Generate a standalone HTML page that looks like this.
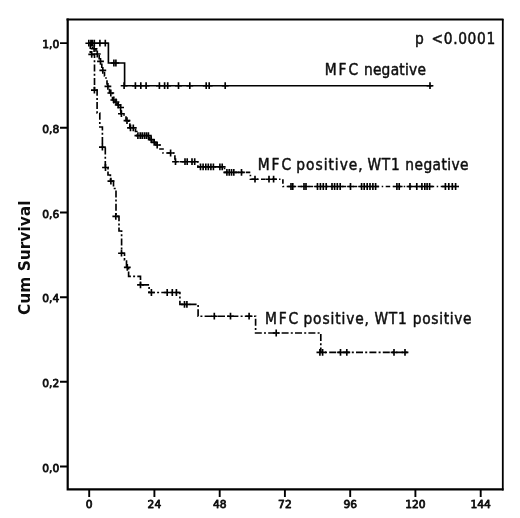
<!DOCTYPE html>
<html lang="en"><head><meta charset="utf-8"><title>Cum Survival</title>
<style>
html,body{margin:0;padding:0;background:#fff;}
body{width:520px;height:518px;overflow:hidden;}
svg{display:block;}
text{font-family:"DejaVu Sans","Liberation Sans",sans-serif;fill:#111;stroke:#111;stroke-width:0.5px;stroke-linejoin:round;}
.b{stroke-width:0;}
.t{stroke-width:0.75px;}
.b{font-weight:bold;}
</style></head><body>
<svg width="520" height="518" viewBox="0 0 520 518">
<defs><filter id="s" x="-2%" y="-2%" width="104%" height="104%"><feGaussianBlur stdDeviation="0.4"/></filter></defs>
<rect width="520" height="518" fill="#fff"/>
<g filter="url(#s)">
<path d="M66.5,19.6 H503.5" fill="none" stroke="#000" stroke-width="2"/>
<path d="M502.8,19 V490.4" fill="none" stroke="#000" stroke-width="1.8"/>
<path d="M67.7,18.6 V489.45 H503.5" fill="none" stroke="#000" stroke-width="2.2"/>
<path d="M60,43.1H67M60,127.8H67M60,212.5H67M60,297.2H67M60,381.8H67M60,466.5H67M89.2,489V497M154.4,489V497M219.7,489V497M284.9,489V497M350.2,489V497M415.4,489V497M480.7,489V497" fill="none" stroke="#000" stroke-width="1.9"/>
<text class="t" transform="translate(59.2,48.4) scale(1.04,1)" font-size="10.3" text-anchor="end">1,0</text>
<text class="t" transform="translate(59.2,133.0) scale(1.04,1)" font-size="10.3" text-anchor="end">0,8</text>
<text class="t" transform="translate(59.2,217.7) scale(1.04,1)" font-size="10.3" text-anchor="end">0,6</text>
<text class="t" transform="translate(59.2,302.4) scale(1.04,1)" font-size="10.3" text-anchor="end">0,4</text>
<text class="t" transform="translate(59.2,387.0) scale(1.04,1)" font-size="10.3" text-anchor="end">0,2</text>
<text class="t" transform="translate(59.2,471.7) scale(1.04,1)" font-size="10.3" text-anchor="end">0,0</text>
<text class="t" transform="translate(89.2,508.2) scale(1.04,1)" font-size="10.3" text-anchor="middle">0</text>
<text class="t" transform="translate(154.4,508.2) scale(1.04,1)" font-size="10.3" text-anchor="middle">24</text>
<text class="t" transform="translate(219.7,508.2) scale(1.04,1)" font-size="10.3" text-anchor="middle">48</text>
<text class="t" transform="translate(284.9,508.2) scale(1.04,1)" font-size="10.3" text-anchor="middle">72</text>
<text class="t" transform="translate(350.2,508.2) scale(1.04,1)" font-size="10.3" text-anchor="middle">96</text>
<text class="t" transform="translate(415.4,508.2) scale(1.04,1)" font-size="10.3" text-anchor="middle">120</text>
<text class="t" transform="translate(480.7,508.2) scale(1.04,1)" font-size="10.3" text-anchor="middle">144</text>
<text class="b" transform="translate(30.2,257.8) rotate(-90)" font-size="15.6" text-anchor="middle" textLength="114.5" lengthAdjust="spacingAndGlyphs">Cum Survival</text>
<text transform="translate(257.68,169.9) scale(0.92,1)" font-size="15" letter-spacing="2.16">MFC</text>
<text transform="translate(296.28,169.9) scale(0.92,1)" font-size="15" letter-spacing="1.08">positive,</text>
<text transform="translate(367.50,169.9) scale(0.92,1)" font-size="15" letter-spacing="0.76">WT1</text>
<text transform="translate(405.33,169.9) scale(0.92,1)" font-size="15" letter-spacing="0.45">negative</text>
<text transform="translate(265.08,324.4) scale(0.92,1)" font-size="15" letter-spacing="1.89">MFC</text>
<text transform="translate(303.48,324.4) scale(0.92,1)" font-size="15" letter-spacing="0.95">positive,</text>
<text transform="translate(374.50,324.4) scale(0.92,1)" font-size="15" letter-spacing="0.76">WT1</text>
<text transform="translate(412.83,324.4) scale(0.92,1)" font-size="15" letter-spacing="0.71">positive</text>
<text transform="translate(324.68,74.6) scale(0.92,1)" font-size="15" letter-spacing="2.22">MFC</text>
<text transform="translate(363.88,74.6) scale(0.92,1)" font-size="15" letter-spacing="0.28">negative</text>
<text transform="translate(415.08,44.0) scale(0.92,1)" font-size="15" letter-spacing="0.00">p</text>
<text transform="translate(431.58,44.0) scale(0.92,1)" font-size="15" letter-spacing="0.68">&lt;0.0001</text>
<path d="M89.0,43.2 H108.4 V63.0 H124.6 V85.7 H432.5" fill="none" stroke="#000" stroke-width="1.65"/>
<path d="M89.0,43.2 H92.5 V48.7 H96.0 V54.0 H99.2 V61.4 H101.8 V70.4 H104.5 V76.0 H106.0 V81.0 H107.0 V86.3 H109.5 V93.0 H112.5 V100.0 H115.0 V102.0 H117.2 V105.0 H119.5 V107.5 H120.9 V113.7 H124.0 V117.0 H126.0 V120.6 H128.8 V124.0 H129.8 V127.8 H135.5 V131.5 H136.8 V135.6 H149.8 V139.6 H153.0 V142.3 H156.0 V145.0 H160.0 V149.0 H163.0 V153.0 H174.9 V161.7 H197.9 V166.8 H224.5 V172.4 H250.4 V179.2 H282.9 V186.5 H459.0" fill="none" stroke="#000" stroke-width="1.65" stroke-dasharray="4.5 2.5 1.5 2.5"/>
<path d="M89.0,43.2 H90.3 V54.3 H94.5 V90.1 H97.1 V113.0 H99.8 V127.0 H102.4 V147.1 H105.3 V167.5 H108.0 V175.0 H110.4 V181.1 H113.5 V188.5 H116.0 V216.3 H119.0 V231.0 H121.6 V253.2 H124.5 V260.0 H126.5 V267.3 H128.6 V276.3 H140.5 V284.9 H149.1 V292.5 H179.9 V304.4 H198.1 V316.2 H255.6 V333.0 H320.8 V352.4 H407.5" fill="none" stroke="#000" stroke-width="1.65" stroke-dasharray="7 2.2 2 2.2"/>
<path d="M85.4,43.2h6.8M88.8,39.8v6.8M87.5,43.2h6.8M90.9,39.8v6.8M88.9,43.2h6.8M92.3,39.8v6.8M90.9,43.2h6.8M94.3,39.8v6.8M96.5,43.2h6.8M99.9,39.8v6.8M101.9,43.2h6.8M105.3,39.8v6.8M110.5,63.0h6.8M113.9,59.6v6.8M112.5,63.0h6.8M115.9,59.6v6.8M120.7,85.7h6.8M124.1,82.3v6.8M132.0,85.7h6.8M135.4,82.3v6.8M137.4,85.7h6.8M140.8,82.3v6.8M142.7,85.7h6.8M146.1,82.3v6.8M156.0,85.7h6.8M159.4,82.3v6.8M161.2,85.7h6.8M164.6,82.3v6.8M164.3,85.7h6.8M167.7,82.3v6.8M175.1,85.7h6.8M178.5,82.3v6.8M186.4,85.7h6.8M189.8,82.3v6.8M202.8,85.7h6.8M206.2,82.3v6.8M205.8,85.7h6.8M209.2,82.3v6.8M221.8,85.7h6.8M225.2,82.3v6.8M426.6,85.7h6.8M430.0,82.3v6.8M90.7,48.7h6.8M94.1,45.3v6.8M93.9,54.0h6.8M97.3,50.6v6.8M97.1,61.4h6.8M100.5,58.0v6.8M99.4,70.4h6.8M102.8,67.0v6.8M104.5,86.3h6.8M107.9,82.9v6.8M107.4,93.0h6.8M110.8,89.6v6.8M110.4,100.0h6.8M113.8,96.6v6.8M112.6,102.0h6.8M116.0,98.6v6.8M114.8,105.0h6.8M118.2,101.6v6.8M117.2,107.5h6.8M120.6,104.1v6.8M118.0,113.7h6.8M121.4,110.3v6.8M123.6,120.6h6.8M127.0,117.2v6.8M127.1,127.8h6.8M130.5,124.4v6.8M129.9,127.8h6.8M133.3,124.4v6.8M134.5,135.6h6.8M137.9,132.2v6.8M136.8,135.6h6.8M140.2,132.2v6.8M138.8,135.6h6.8M142.2,132.2v6.8M141.0,135.6h6.8M144.4,132.2v6.8M143.0,135.6h6.8M146.4,132.2v6.8M145.0,135.6h6.8M148.4,132.2v6.8M147.8,139.6h6.8M151.2,136.2v6.8M150.8,142.3h6.8M154.2,138.9v6.8M153.8,145.0h6.8M157.2,141.6v6.8M167.2,153.0h6.8M170.6,149.6v6.8M172.1,161.7h6.8M175.5,158.3v6.8M181.6,161.7h6.8M185.0,158.3v6.8M183.8,161.7h6.8M187.2,158.3v6.8M188.6,161.7h6.8M192.0,158.3v6.8M191.3,161.7h6.8M194.7,158.3v6.8M197.1,166.8h6.8M200.5,163.4v6.8M199.7,166.8h6.8M203.1,163.4v6.8M202.4,166.8h6.8M205.8,163.4v6.8M204.9,166.8h6.8M208.3,163.4v6.8M207.5,166.8h6.8M210.9,163.4v6.8M210.0,166.8h6.8M213.4,163.4v6.8M216.5,166.8h6.8M219.9,163.4v6.8M218.8,166.8h6.8M222.2,163.4v6.8M223.5,172.4h6.8M226.9,169.0v6.8M225.8,172.4h6.8M229.2,169.0v6.8M228.1,172.4h6.8M231.5,169.0v6.8M230.4,172.4h6.8M233.8,169.0v6.8M238.1,172.4h6.8M241.5,169.0v6.8M251.6,179.2h6.8M255.0,175.8v6.8M265.6,179.2h6.8M269.0,175.8v6.8M270.2,179.2h6.8M273.6,175.8v6.8M287.6,186.5h6.8M291.0,183.1v6.8M289.4,186.5h6.8M292.8,183.1v6.8M300.6,186.5h6.8M304.0,183.1v6.8M302.6,186.5h6.8M306.0,183.1v6.8M314.1,186.5h6.8M317.5,183.1v6.8M317.0,186.5h6.8M320.4,183.1v6.8M319.9,186.5h6.8M323.3,183.1v6.8M322.8,186.5h6.8M326.2,183.1v6.8M328.6,186.5h6.8M332.0,183.1v6.8M331.2,186.5h6.8M334.6,183.1v6.8M333.9,186.5h6.8M337.3,183.1v6.8M336.8,186.5h6.8M340.2,183.1v6.8M347.1,186.5h6.8M350.5,183.1v6.8M358.2,186.5h6.8M361.6,183.1v6.8M360.8,186.5h6.8M364.2,183.1v6.8M363.8,186.5h6.8M367.2,183.1v6.8M366.6,186.5h6.8M370.0,183.1v6.8M369.5,186.5h6.8M372.9,183.1v6.8M372.2,186.5h6.8M375.6,183.1v6.8M393.5,186.5h6.8M396.9,183.1v6.8M395.8,186.5h6.8M399.2,183.1v6.8M406.6,186.5h6.8M410.0,183.1v6.8M413.4,186.5h6.8M416.8,183.1v6.8M418.5,186.5h6.8M421.9,183.1v6.8M421.4,186.5h6.8M424.8,183.1v6.8M423.7,186.5h6.8M427.1,183.1v6.8M426.2,186.5h6.8M429.6,183.1v6.8M442.0,186.5h6.8M445.4,183.1v6.8M445.4,186.5h6.8M448.8,183.1v6.8M448.9,186.5h6.8M452.3,183.1v6.8M452.2,186.5h6.8M455.6,183.1v6.8M88.3,54.3h6.8M91.7,50.9v6.8M91.0,90.1h6.8M94.4,86.7v6.8M99.0,147.1h6.8M102.4,143.7v6.8M102.1,167.5h6.8M105.5,164.1v6.8M107.5,181.1h6.8M110.9,177.7v6.8M112.4,216.3h6.8M115.8,212.9v6.8M118.1,253.2h6.8M121.5,249.8v6.8M123.9,267.3h6.8M127.3,263.9v6.8M137.1,284.9h6.8M140.5,281.5v6.8M148.0,292.5h6.8M151.4,289.1v6.8M163.8,292.5h6.8M167.2,289.1v6.8M168.9,292.5h6.8M172.3,289.1v6.8M173.0,292.5h6.8M176.4,289.1v6.8M181.1,304.4h6.8M184.5,301.0v6.8M183.5,304.4h6.8M186.9,301.0v6.8M210.9,316.2h6.8M214.3,312.8v6.8M227.1,316.2h6.8M230.5,312.8v6.8M245.7,316.2h6.8M249.1,312.8v6.8M272.8,333.0h6.8M276.2,329.6v6.8M316.5,352.4h6.8M319.9,349.0v6.8M319.2,352.4h6.8M322.6,349.0v6.8M337.1,352.4h6.8M340.5,349.0v6.8M343.4,352.4h6.8M346.8,349.0v6.8M390.6,352.4h6.8M394.0,349.0v6.8M401.6,352.4h6.8M405.0,349.0v6.8" fill="none" stroke="#000" stroke-width="1.65"/>
</g></svg>
</body></html>
